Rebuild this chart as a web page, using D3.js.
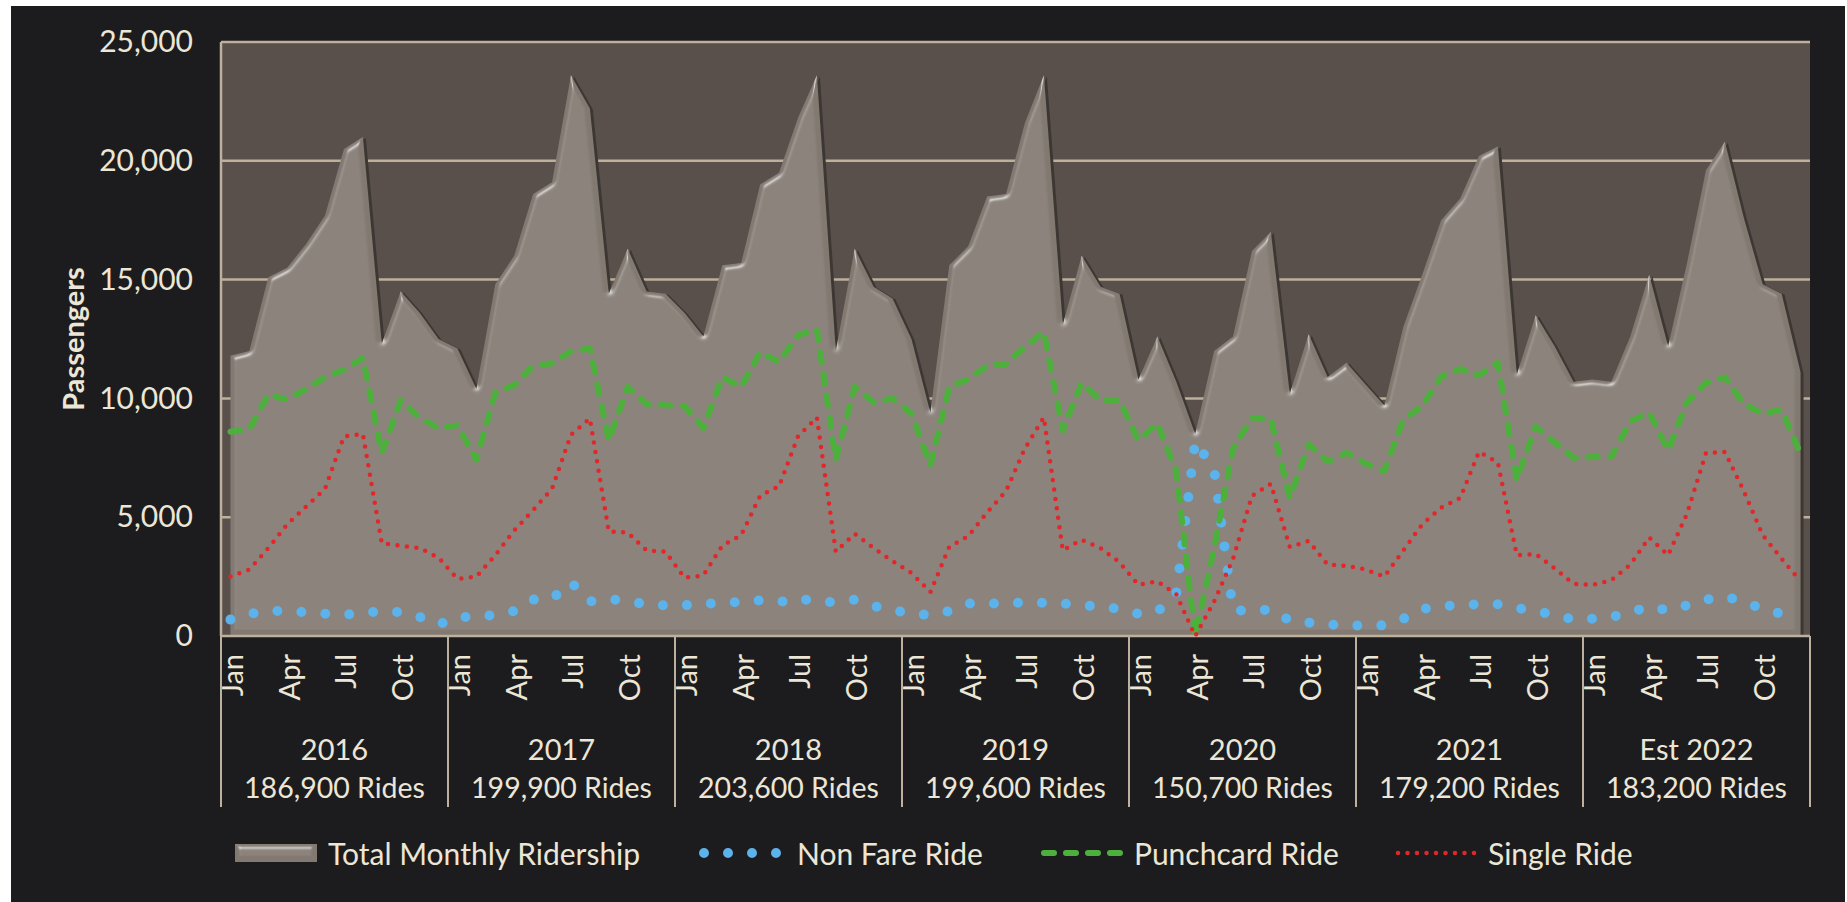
<!DOCTYPE html>
<html>
<head>
<meta charset="utf-8">
<script src="https://cdn.jsdelivr.net/npm/d3@7"></script>
<style>
  body { margin: 0; background: #ffffff; }
  svg { display: block; }
  text { font-family: Lato, "Open Sans", sans-serif; fill: #ece6d7; }
</style>
</head>
<body>
<svg id="chart" width="1847" height="902"></svg>
<script>
const monthNames = ['Jan','Feb','Mar','Apr','May','Jun','Jul','Aug','Sep','Oct','Nov','Dec'];
const yearLabels = ['2016','2017','2018','2019','2020','2021','Est 2022'];
const yearRides = ['186,900 Rides','199,900 Rides','203,600 Rides','199,600 Rides','150,700 Rides','179,200 Rides','183,200 Rides'];
const yTicks = [0, 5000, 10000, 15000, 20000, 25000];

const totalRidership = [
  11800,12000,15100,15500,16500,17700,20500,21000,12300,14500,13600,12500,
  12100,10400,14800,16000,18600,19100,23600,22200,14400,16300,14500,14400,
  13600,12600,15600,15700,19000,19500,21800,23600,12000,16300,14700,14200,
  12500,9400,15600,16400,18500,18600,21600,23600,13100,16000,14700,14400,
  10800,12600,10700,8500,12000,12600,16200,17000,10200,12700,10900,11500,
  10600,9700,13000,15200,17500,18400,20200,20600,11000,13500,12200,10700,
  10800,10700,12600,15200,12200,15700,19600,20800,17600,14800,14400,11100];
const nonFareRide = [
  690,935,1050,1050,1000,935,890,970,1050,1000,800,480,
  800,800,890,1050,1530,1560,2260,1450,1560,1450,1340,1290,
  1290,1370,1370,1450,1500,1420,1580,1450,1420,1530,1260,1100,
  920,890,1050,1370,1370,1370,1420,1400,1370,1290,1240,1130,
  935,1020,1770,8200,7000,1100,1030,1130,645,565,480,450,
  435,450,725,1130,1260,1290,1340,1340,1180,1050,890,690,
  725,800,1000,1240,1080,1290,1530,1660,1450,1130,935,770];
const punchcardRide = [
  8600,8700,10160,9950,10400,10890,11210,11700,7690,9920,9190,8740,
  8870,7420,10240,10560,11370,11480,11980,12100,8230,10480,9760,9710,
  9680,8760,10890,10480,11940,11530,12660,12900,7420,10480,9840,10000,
  9360,7180,10480,10810,11370,11450,12180,12790,8660,10650,9920,9920,
  8230,8950,6940,0,3700,7900,9190,9110,5810,8070,7340,7710,
  7260,6940,9110,9680,10920,11240,10970,11500,6570,8820,8150,7500,
  7530,7530,9030,9400,7820,9840,10650,10890,9760,9360,9520,7660];
const singleRide = [
  2500,2800,3700,4700,5450,6200,8400,8500,3900,3800,3700,3300,
  2400,2500,3400,4440,5300,6200,8470,9150,4400,4350,3600,3550,
  2450,2550,3800,4250,5900,6300,8400,9200,3550,4300,3700,3150,
  2650,1850,3750,4200,5200,6100,7900,9200,3600,4050,3700,3100,
  2150,2300,1750,0,1450,3250,5900,6400,3750,4000,3000,2950,
  2800,2500,3600,4700,5400,5800,7750,7300,3400,3450,2850,2200,
  2150,2350,3000,4150,3400,5150,7700,7750,6100,4250,3250,2300];

const categories = yearLabels.flatMap(y => monthNames.map(m => y + ' ' + m));

const svg = d3.select('#chart');
const plotLeft = 221, plotRight = 1810, plotTop = 42, plotBottom = 636;
const lineColor = '#bdb09c';

const x = d3.scaleBand().domain(d3.range(categories.length)).range([plotLeft, plotRight]);
const cx = i => x(i) + x.bandwidth() / 2;
const y = d3.scaleLinear().domain([0, 25000]).range([plotBottom, plotTop]);

// filter for the bevelled look of the area
const defs = svg.append('defs');
const f = defs.append('filter').attr('id', 'bevel').attr('x', '-2%').attr('y', '-5%').attr('width', '104%').attr('height', '110%');
f.append('feGaussianBlur').attr('in', 'SourceAlpha').attr('stdDeviation', 2.5).attr('result', 'blur');
f.append('feSpecularLighting').attr('in', 'blur').attr('surfaceScale', 4).attr('specularConstant', 0.55)
  .attr('specularExponent', 28).attr('lighting-color', '#ffffff').attr('result', 'spec')
  .append('feDistantLight').attr('azimuth', 250).attr('elevation', 42);
f.append('feComposite').attr('in', 'spec').attr('in2', 'SourceAlpha').attr('operator', 'in').attr('result', 'specIn');
f.append('feComposite').attr('in', 'SourceGraphic').attr('in2', 'specIn').attr('operator', 'arithmetic')
  .attr('k1', 0).attr('k2', 1).attr('k3', 0.8).attr('k4', 0);

svg.append('rect').attr('x', 11).attr('y', 6).attr('width', 1834).attr('height', 896).attr('fill', '#1c1c1e');
svg.append('rect').attr('x', plotLeft).attr('y', plotTop).attr('width', plotRight - plotLeft).attr('height', plotBottom - plotTop).attr('fill', '#59504c');

svg.append('g').selectAll('line').data(yTicks.filter(d => d > 0)).join('line')
  .attr('x1', plotLeft).attr('x2', plotRight)
  .attr('y1', d => y(d)).attr('y2', d => y(d))
  .attr('stroke', lineColor).attr('stroke-width', 2.5);

// total ridership area
const area = d3.area().x((d, i) => cx(i)).y0(y(0)).y1(d => y(d));
svg.append('path').datum(totalRidership).attr('d', area)
  .attr('transform', 'translate(3,1)').attr('fill', '#3d3734');
svg.append('path').datum(totalRidership).attr('d', area)
  .attr('fill', '#827971').attr('filter', 'url(#bevel)');

// axis lines
svg.append('line').attr('x1', plotLeft).attr('x2', plotLeft).attr('y1', plotTop).attr('y2', plotBottom)
  .attr('stroke', lineColor).attr('stroke-width', 2.5);
svg.append('line').attr('x1', plotLeft).attr('x2', plotRight).attr('y1', plotBottom).attr('y2', plotBottom)
  .attr('stroke', lineColor).attr('stroke-width', 2.5);

const line = d3.line().x((d, i) => cx(i)).y(d => y(d));
const styles = {
  nonFare: { color: '#5cb2ea', width: 10, dash: '0 24' },
  punch: { color: '#4db03c', width: 6, dash: '10 12' },
  single: { color: '#e3262a', width: 4.5, dash: '0 9.5' }
};
[[nonFareRide, styles.nonFare], [punchcardRide, styles.punch], [singleRide, styles.single]].forEach(([data, s]) => {
  svg.append('path').datum(data).attr('d', line)
    .attr('fill', 'none').attr('stroke', s.color).attr('stroke-width', s.width)
    .attr('stroke-dasharray', s.dash).attr('stroke-linecap', 'round').attr('stroke-linejoin', 'round');
});

// y axis
const yAxis = svg.append('g').attr('transform', `translate(${plotLeft},0)`)
  .call(d3.axisLeft(y).tickValues(yTicks).tickSize(0).tickPadding(28).tickFormat(d3.format(',')));
yAxis.select('.domain').remove();
yAxis.selectAll('text').attr('font-size', 30).attr('fill', '#ece6d7').style('font-family', 'Lato, sans-serif');

svg.append('text').attr('transform', 'translate(72,339) rotate(-90)')
  .attr('text-anchor', 'middle').attr('dominant-baseline', 'central')
  .attr('font-size', 29).attr('font-weight', 'bold').text('Passengers');

// month labels
svg.append('g').selectAll('text').data(d3.range(categories.length).filter(i => i % 3 === 0)).join('text')
  .attr('transform', i => `translate(${cx(i) + 1},654) rotate(-90)`)
  .attr('text-anchor', 'end').attr('dominant-baseline', 'central')
  .attr('font-size', 29).text(i => monthNames[i % 12]);

// year separators and labels
svg.append('g').selectAll('line').data(d3.range(yearLabels.length + 1)).join('line')
  .attr('x1', k => k < yearLabels.length ? x(k * 12) : plotRight)
  .attr('x2', k => k < yearLabels.length ? x(k * 12) : plotRight)
  .attr('y1', plotBottom).attr('y2', 807)
  .attr('stroke', lineColor).attr('stroke-width', 2);

const yearMid = k => (x(k * 12) + x(k * 12 + 11) + x.bandwidth()) / 2;
svg.append('g').selectAll('text').data(yearLabels).join('text')
  .attr('x', (d, k) => yearMid(k)).attr('y', 748)
  .attr('text-anchor', 'middle').attr('dominant-baseline', 'central')
  .attr('font-size', 29).text(d => d);
svg.append('g').selectAll('text').data(yearRides).join('text')
  .attr('x', (d, k) => yearMid(k)).attr('y', 787)
  .attr('text-anchor', 'middle').attr('dominant-baseline', 'central')
  .attr('font-size', 28.5).text(d => d);

// legend
const ly = 853;
const legend = svg.append('g');
legend.append('rect').attr('x', 235).attr('y', ly - 9).attr('width', 82).attr('height', 18)
  .attr('fill', '#827971').attr('filter', 'url(#bevel)');
legend.append('text').attr('x', 328).attr('y', ly).attr('dominant-baseline', 'central')
  .attr('font-size', 30).text('Total Monthly Ridership');

const legendItems = [
  { s: styles.nonFare, x1: 704, x2: 780, tx: 797, label: 'Non Fare Ride' },
  { s: styles.punch, x1: 1044, x2: 1122, tx: 1134, label: 'Punchcard Ride' },
  { s: styles.single, x1: 1398, x2: 1476, tx: 1488, label: 'Single Ride' }
];
legendItems.forEach(d => {
  legend.append('line').attr('x1', d.x1).attr('x2', d.x2).attr('y1', ly).attr('y2', ly)
    .attr('stroke', d.s.color).attr('stroke-width', d.s.width)
    .attr('stroke-dasharray', d.s.dash).attr('stroke-linecap', 'round');
  legend.append('text').attr('x', d.tx).attr('y', ly).attr('dominant-baseline', 'central')
    .attr('font-size', 30).text(d.label);
});
</script>
</body>
</html>
